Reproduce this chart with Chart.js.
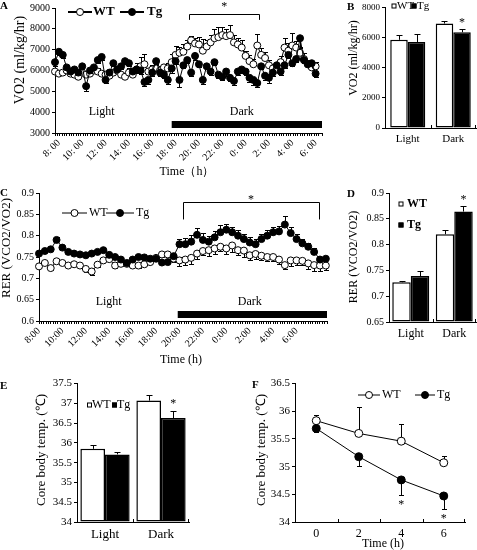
<!DOCTYPE html>
<html>
<head>
<meta charset="utf-8">
<script src="https://cdn.jsdelivr.net/npm/chart.js@4.4.0/dist/chart.umd.min.js"></script>
<style>
html, body { margin: 0; padding: 0; background: #fff; }
#fig { position: relative; width: 477px; height: 550px; overflow: hidden; }
canvas { position: absolute; }
</style>
</head>
<body>
<div id="fig">
  <canvas id="chartA" width="340" height="185" style="left:0;top:0"></canvas>
  <canvas id="chartB" width="137" height="185" style="left:340px;top:0"></canvas>
  <canvas id="chartC" width="340" height="195" style="left:0;top:185px"></canvas>
  <canvas id="chartD" width="137" height="165" style="left:340px;top:185px"></canvas>
  <canvas id="chartE" width="230" height="175" style="left:0;top:375px"></canvas>
  <canvas id="chartF" width="247" height="175" style="left:230px;top:375px"></canvas>
</div>
<script>
// A: VO2, one reading every 20 min from 8:00
const stepA = 1 / 3;
const vo2WT = [5950, 5850, 5900, 6000, 5850, 5800, 5700, 5900, 5800, 5850, 6000, 5950, 5850, 5800, 5750, 5900, 6000,
  5800, 5700, 5900, 5800, 6050, 6200, 6300, 5950, 6050, 6100, 6000, 6150, 6100, 6400, 6750, 6850, 6900, 7150,
  7450, 7300, 7250, 6950, 7150, 7350, 7550, 7600, 7700, 7650, 7700, 7350, 7250, 7100, 6700, 6450, 6300, 7200,
  6750, 6600, 6250, 6100, 6050, 6400, 7100, 6950, 7200, 7100, 6850, 6550, 6300, 6150, 6200];
const vo2WTErr = [250, 150, 150, 200, 150, 150, 150, 200, 150, 150, 200, 150, 150, 200, 150, 150, 200,
  150, 150, 200, 150, 300, 450, 500, 150, 200, 150, 200, 150, 250, 400, 450, 300, 350, 300,
  200, 250, 350, 550, 300, 350, 450, 500, 400, 350, 500, 350, 300, 350, 250, 300, 250, 550,
  350, 300, 250, 200, 300, 300, 450, 350, 600, 300, 250, 300, 200, 200, 200];
const vo2Tg = [6400, 6900, 6750, 6150, 5950, 6050, 5900, 6200, 5250, 6000, 6150, 6500, 6650, 5550, 5900, 6350, 6050,
  6200, 6450, 6350, 5950, 6050, 6000, 5450, 5550, 5900, 6450, 5900, 5800, 5550, 6100, 6450, 5550, 6250, 6500,
  5900, 6700, 6300, 5550, 6200, 5950, 6400, 5800, 5700, 5950, 5650, 5500, 5950, 6050, 5950, 5650, 5550, 5400,
  6200, 5750, 5650, 5900, 6250, 5950, 6250, 6750, 6350, 6550, 7550, 6500, 6300, 6350, 5850];
const vo2TgErr = [350, 150, 150, 150, 150, 150, 150, 150, 250, 150, 150, 150, 150, 150, 150, 150, 150,
  150, 150, 150, 150, 150, 150, 200, 200, 150, 150, 150, 150, 200, 200, 150, 350, 150, 150,
  150, 200, 150, 200, 150, 150, 150, 150, 150, 200, 150, 200, 150, 150, 150, 200, 250, 200,
  150, 200, 250, 150, 200, 150, 150, 150, 150, 150, 400, 150, 150, 150, 150];

// C: RER, one reading every 30 min from 8:00
const stepC = 0.5;
const rerWT = [0.728, 0.736, 0.724, 0.740, 0.736, 0.730, 0.733, 0.730, 0.722, 0.716, 0.732, 0.742, 0.745,
  0.730, 0.734, 0.734, 0.730, 0.730, 0.733, 0.738, 0.748, 0.756, 0.756, 0.746, 0.742, 0.744, 0.748, 0.758,
  0.764, 0.766, 0.770, 0.774, 0.770, 0.777, 0.766, 0.765, 0.754, 0.757, 0.753, 0.750, 0.750, 0.744, 0.731,
  0.742, 0.742, 0.741, 0.735, 0.731, 0.730, 0.730];
const rerWTErr = [0.004, 0.005, 0.004, 0.005, 0.004, 0.004, 0.004, 0.004, 0.006, 0.008, 0.005, 0.004, 0.004,
  0.006, 0.005, 0.004, 0.004, 0.005, 0.004, 0.004, 0.004, 0.005, 0.006, 0.008, 0.012, 0.012, 0.014, 0.012,
  0.010, 0.014, 0.012, 0.010, 0.012, 0.016, 0.012, 0.014, 0.010, 0.012, 0.010, 0.010, 0.010, 0.010, 0.010,
  0.012, 0.010, 0.010, 0.012, 0.014, 0.012, 0.010];
const rerTg = [0.758, 0.764, 0.768, 0.790, 0.772, 0.762, 0.758, 0.756, 0.754, 0.758, 0.762, 0.766, 0.755,
  0.750, 0.744, 0.736, 0.744, 0.750, 0.749, 0.746, 0.746, 0.737, 0.738, 0.752, 0.780, 0.780, 0.786, 0.802,
  0.790, 0.786, 0.796, 0.808, 0.814, 0.808, 0.800, 0.792, 0.784, 0.780, 0.792, 0.800, 0.808, 0.810, 0.826,
  0.806, 0.792, 0.782, 0.774, 0.762, 0.744, 0.746];
const rerTgErr = [0.004, 0.004, 0.005, 0.006, 0.005, 0.004, 0.004, 0.004, 0.004, 0.004, 0.005, 0.004, 0.004,
  0.004, 0.004, 0.004, 0.004, 0.004, 0.004, 0.004, 0.004, 0.004, 0.004, 0.006, 0.012, 0.014, 0.016, 0.015,
  0.016, 0.014, 0.015, 0.016, 0.014, 0.013, 0.014, 0.012, 0.014, 0.012, 0.013, 0.014, 0.012, 0.012, 0.020,
  0.014, 0.012, 0.010, 0.008, 0.008, 0.006, 0.005];

// B, D, E: Light / Dark means
const phases = ['Light', 'Dark'];
const vo2BarWT = [5850, 6930];
const vo2BarWTErr = [320, 170];
const vo2BarTg = [5700, 6350];
const vo2BarTgErr = [530, 190];
const rerBarWT = [0.727, 0.820];
const rerBarWTErr = [0.002, 0.009];
const rerBarTg = [0.739, 0.864];
const rerBarTgErr = [0.010, 0.010];
const tempBarWT = [35.85, 37.07];
const tempBarWTErr = [0.10, 0.14];
const tempBarTg = [35.71, 36.63];
const tempBarTgErr = [0.07, 0.17];

// F: cold exposure
const coldHours = [0, 2, 4, 6];
const coldWT = [35.83, 35.60, 35.46, 35.07];
const coldWTErr = [0.11, 0.48, 0.31, 0.12];
const coldTg = [35.69, 35.18, 34.76, 34.47];
const coldTgErr = [0.07, 0.17, 0.27, 0.24];

const SERIF = "'Liberation Serif', 'Times New Roman', serif";
Chart.defaults.font.family = SERIF;
Chart.defaults.color = '#000';

function series(values, step) {
  return values.map((v, i) => ({ x: i * step, y: v }));
}

function clock(value, sep) {
  const h = Math.round(value * 10) / 10;
  if (h < 0 || h > 22 || h % 2 !== 0) return '';
  return ((8 + h) % 24) + sep + '00';
}

function num(v) {
  return String(+v.toFixed(3));
}

function txt(ctx, s, x, y, size, opts = {}) {
  ctx.save();
  ctx.font = (opts.bold ? 'bold ' : '') + size + 'px ' + SERIF;
  ctx.fillStyle = '#000';
  ctx.textAlign = opts.align || 'center';
  ctx.textBaseline = 'middle';
  ctx.translate(x, y);
  if (opts.vertical) ctx.rotate(-Math.PI / 2);
  ctx.fillText(s, 0, 0);
  ctx.restore();
}

function lineKey(ctx, x1, x2, y, filled, r, lw) {
  ctx.save();
  ctx.strokeStyle = '#000';
  ctx.lineWidth = lw;
  ctx.beginPath();
  ctx.moveTo(x1, y);
  ctx.lineTo(x2, y);
  ctx.stroke();
  ctx.lineWidth = 1;
  ctx.beginPath();
  ctx.arc((x1 + x2) / 2, y, r, 0, Math.PI * 2);
  ctx.fillStyle = filled ? '#000' : '#fff';
  ctx.fill();
  ctx.stroke();
  ctx.restore();
}

function boxKey(ctx, x, y, size, filled) {
  ctx.save();
  ctx.fillStyle = filled ? '#000' : '#fff';
  ctx.strokeStyle = '#000';
  ctx.lineWidth = 1;
  ctx.fillRect(x - size / 2, y - size / 2, size, size);
  ctx.strokeRect(x - size / 2 + 0.5, y - size / 2 + 0.5, size - 1, size - 1);
  ctx.restore();
}

function bracket(ctx, x1, x2, yTop, yEnd) {
  ctx.save();
  ctx.strokeStyle = '#000';
  ctx.lineWidth = 1;
  ctx.beginPath();
  ctx.moveTo(Math.round(x1) + 0.5, yEnd);
  ctx.lineTo(Math.round(x1) + 0.5, Math.round(yTop) + 0.5);
  ctx.lineTo(Math.round(x2) + 0.5, Math.round(yTop) + 0.5);
  ctx.lineTo(Math.round(x2) + 0.5, yEnd);
  ctx.stroke();
  ctx.restore();
}

function upTick(ctx, x, bottom) {
  ctx.save();
  ctx.strokeStyle = '#000';
  ctx.beginPath();
  ctx.moveTo(Math.round(x) + 0.5, bottom);
  ctx.lineTo(Math.round(x) + 0.5, bottom - 3);
  ctx.stroke();
  ctx.restore();
}

// error bars: each dataset carries err values and a direction (+1 up, -1 down)
const errorBars = {
  id: 'errorBars',
  beforeDatasetsDraw(chart) {
    const ctx = chart.ctx;
    const yScale = chart.scales.y;
    chart.data.datasets.forEach((ds, di) => {
      if (!ds.err) return;
      const cap = ds.capWidth || 5;
      ctx.save();
      ctx.strokeStyle = '#000';
      ctx.lineWidth = 1;
      chart.getDatasetMeta(di).data.forEach((el, i) => {
        if (!ds.err[i]) return;
        const d = ds.data[i];
        const v = typeof d === 'object' ? d.y : d;
        const x = Math.round(el.x) + 0.5;
        const yEnd = Math.round(yScale.getPixelForValue(v + ds.errDir * ds.err[i])) + 0.5;
        ctx.beginPath();
        ctx.moveTo(x, el.y);
        ctx.lineTo(x, yEnd);
        ctx.moveTo(x - cap / 2, yEnd);
        ctx.lineTo(x + cap / 2, yEnd);
        ctx.stroke();
      });
      ctx.restore();
    });
  }
};

function notes(draw) {
  return { id: 'notes', afterDraw: chart => draw(chart, chart.ctx) };
}

function yAxis(min, max, step, width, size, fmt) {
  return {
    min, max,
    ticks: { stepSize: step, font: { size }, padding: 2, callback: fmt },
    grid: { drawOnChartArea: false, tickLength: 3, tickColor: '#000' },
    border: { color: '#000' },
    afterFit: s => { s.width = width; }
  };
}

function lineSet(label, data, filled, r, err, errDir, order) {
  return {
    label, data, order, err, errDir,
    borderColor: '#000', borderWidth: 1,
    pointRadius: r, pointHoverRadius: r, pointBorderWidth: 1,
    pointBorderColor: '#000', pointBackgroundColor: filled ? '#000' : '#fff',
    tension: 0, clip: false
  };
}

function barSet(label, data, filled, err, base) {
  return {
    label, data, base, err, errDir: 1, capWidth: 6,
    backgroundColor: filled ? '#000' : '#fff',
    borderColor: '#000', borderWidth: 1.5, borderSkipped: false
  };
}

const common = {
  responsive: false,
  animation: false,
  devicePixelRatio: 1,
  events: [],
  plugins: { legend: { display: false }, tooltip: { enabled: false } }
};

function timeAxis(max, height, sep, shift) {
  return {
    type: 'linear', min: 0, max,
    ticks: { stepSize: 0.2, autoSkip: false, minRotation: 45, maxRotation: 45, padding: 1,
      labelOffset: shift, font: { size: 10 }, callback: v => clock(v, sep) },
    grid: { drawOnChartArea: false, tickLength: 3, tickColor: '#000' },
    border: { color: '#000' },
    afterFit: s => { s.height = height; }
  };
}

function phaseAxis(height, size, pad) {
  return {
    ticks: { font: { size }, padding: pad },
    grid: { display: false, drawTicks: false },
    border: { color: '#000' },
    afterFit: s => { s.height = height; }
  };
}

// ---- A ----
new Chart(document.getElementById('chartA'), {
  type: 'line',
  data: { datasets: [
    lineSet('WT', series(vo2WT, stepA), false, 3.5, vo2WTErr, 1, 1),
    lineSet('Tg', series(vo2Tg, stepA), true, 3.5, vo2TgErr, -1, 0)
  ] },
  options: { ...common,
    layout: { padding: { top: 0, right: 18, left: 0, bottom: 0 } },
    scales: { x: timeAxis(22.88, 52, ': ', 4), y: yAxis(3000, 9000, 1000, 55, 10, v => v) } },
  plugins: [errorBars, notes((chart, ctx) => {
    const x = chart.scales.x, y = chart.scales.y, a = chart.chartArea;
    txt(ctx, 'A', 0, 6, 11, { bold: true, align: 'left' });
    txt(ctx, 'VO2 (ml/kg/hr)', 20, 60, 14, { vertical: true });
    txt(ctx, 'Time（h）', 187, 172, 12);
    const d0 = x.getPixelForValue(10);
    ctx.fillStyle = '#000';
    ctx.fillRect(d0, a.bottom - 12, a.right - d0, 7);
    txt(ctx, 'Light', x.getPixelForValue(4.0), y.getPixelForValue(4000), 12);
    txt(ctx, 'Dark', x.getPixelForValue(16.0), y.getPixelForValue(4000), 12);
    lineKey(ctx, 68, 92, 12, false, 3.5, 2);
    txt(ctx, 'WT', 93, 12, 13, { bold: true, align: 'left' });
    lineKey(ctx, 120, 144, 12, true, 3.5, 2);
    txt(ctx, 'Tg', 147, 12, 13, { bold: true, align: 'left' });
    const b1 = x.getPixelForValue(11.5), b2 = x.getPixelForValue(17.5);
    bracket(ctx, b1, b2, y.getPixelForValue(8720), y.getPixelForValue(8430));
    txt(ctx, '*', (b1 + b2) / 2, 7, 12);
  })]
});

// ---- B ----
new Chart(document.getElementById('chartB'), {
  type: 'bar',
  data: { labels: phases, datasets: [
    barSet('WT', vo2BarWT, false, vo2BarWTErr, 0),
    barSet('Tg', vo2BarTg, true, vo2BarTgErr, 0)
  ] },
  options: { ...common,
    datasets: { bar: { categoryPercentage: 0.77, barPercentage: 1 } },
    layout: { padding: { top: 0, right: 1, left: 0, bottom: 0 } },
    scales: { x: phaseAxis(57, 11, 5), y: yAxis(0, 8000, 2000, 45, 9, v => v) } },
  plugins: [errorBars, notes((chart, ctx) => {
    const x = chart.scales.x, y = chart.scales.y, a = chart.chartArea;
    txt(ctx, 'B', 7, 7, 11, { bold: true, align: 'left' });
    txt(ctx, 'VO2 (ml/kg/hr)', 14, 58, 12, { vertical: true });
    boxKey(ctx, 54, 6, 5, false);
    txt(ctx, 'WT', 57, 6, 11, { align: 'left' });
    boxKey(ctx, 74, 6, 5, true);
    txt(ctx, 'Tg', 77, 6, 11, { align: 'left' });
    upTick(ctx, x.getPixelForValue(0.5), a.bottom);
    upTick(ctx, a.right - 1, a.bottom);
    const el = chart.getDatasetMeta(1).data[1];
    txt(ctx, '*', el.x, y.getPixelForValue(vo2BarTg[1] + vo2BarTgErr[1]) - 7, 12);
  })]
});

// ---- C ----
new Chart(document.getElementById('chartC'), {
  type: 'line',
  data: { datasets: [
    lineSet('WT', series(rerWT, stepC), false, 3.5, rerWTErr, -1, 1),
    lineSet('Tg', series(rerTg, stepC), true, 3.5, rerTgErr, 1, 0)
  ] },
  options: { ...common,
    layout: { padding: { top: 5, right: 13, left: 0, bottom: 0 } },
    scales: { x: timeAxis(24.6, 59, ':', 0), y: yAxis(0.6, 0.9, 0.05, 39, 10, num) } },
  plugins: [errorBars, notes((chart, ctx) => {
    const x = chart.scales.x, y = chart.scales.y, a = chart.chartArea;
    txt(ctx, 'C', 0, 8, 11, { bold: true, align: 'left' });
    txt(ctx, 'RER (VCO2/VO2)', 7, 63, 13, { vertical: true });
    txt(ctx, 'Time (h)', 181, 175, 12);
    const d0 = x.getPixelForValue(11.85);
    ctx.fillStyle = '#000';
    ctx.fillRect(d0, a.bottom - 10, a.right - d0, 7);
    txt(ctx, 'Light', x.getPixelForValue(5.95), y.getPixelForValue(0.646), 12);
    txt(ctx, 'Dark', x.getPixelForValue(18.0), y.getPixelForValue(0.646), 12);
    lineKey(ctx, 62, 87, 28, false, 3.5, 1);
    txt(ctx, 'WT', 89, 28, 12, { align: 'left' });
    lineKey(ctx, 106, 134, 28, true, 3.5, 1);
    txt(ctx, 'Tg', 136, 28, 12, { align: 'left' });
    const b1 = x.getPixelForValue(12.3), b2 = x.getPixelForValue(23.9);
    bracket(ctx, b1, b2, y.getPixelForValue(0.878), y.getPixelForValue(0.838));
    txt(ctx, '*', (b1 + b2) / 2, 15, 12);
  })]
});

// ---- D ----
new Chart(document.getElementById('chartD'), {
  type: 'bar',
  data: { labels: phases, datasets: [
    barSet('WT', rerBarWT, false, rerBarWTErr, 0.65),
    barSet('Tg', rerBarTg, true, rerBarTgErr, 0.65)
  ] },
  options: { ...common,
    datasets: { bar: { categoryPercentage: 0.85, barPercentage: 1 } },
    layout: { padding: { top: 5, right: 1, left: 0, bottom: 0 } },
    scales: { x: phaseAxis(28, 12, 5), y: yAxis(0.65, 0.9, 0.05, 49, 10, num) } },
  plugins: [errorBars, notes((chart, ctx) => {
    const x = chart.scales.x, y = chart.scales.y, a = chart.chartArea;
    txt(ctx, 'D', 7, 9, 11, { bold: true, align: 'left' });
    txt(ctx, 'RER (VCO2/VO2)', 14, 72, 12, { vertical: true });
    boxKey(ctx, 61, 19, 5, false);
    txt(ctx, 'WT', 67, 19, 12, { bold: true, align: 'left' });
    boxKey(ctx, 61, 40, 5, true);
    txt(ctx, 'Tg', 67, 40, 12, { bold: true, align: 'left' });
    upTick(ctx, x.getPixelForValue(0.5), a.bottom);
    upTick(ctx, a.right - 1, a.bottom);
    const el = chart.getDatasetMeta(1).data[1];
    txt(ctx, '*', el.x, y.getPixelForValue(rerBarTg[1] + rerBarTgErr[1]) - 7, 12);
  })]
});

// ---- E ----
new Chart(document.getElementById('chartE'), {
  type: 'bar',
  data: { labels: phases, datasets: [
    barSet('WT', tempBarWT, false, tempBarWTErr, 34),
    barSet('Tg', tempBarTg, true, tempBarTgErr, 34)
  ] },
  options: { ...common,
    datasets: { bar: { categoryPercentage: 0.88, barPercentage: 1 } },
    layout: { padding: { top: 5.4, right: 41, left: 0, bottom: 0 } },
    scales: { x: phaseAxis(28, 13, 5), y: yAxis(34, 37.5, 0.5, 77, 11, num) } },
  plugins: [errorBars, notes((chart, ctx) => {
    const x = chart.scales.x, y = chart.scales.y, a = chart.chartArea;
    txt(ctx, 'E', 0, 11, 11, { bold: true, align: 'left' });
    txt(ctx, 'Core body temp. (℃)', 42, 75, 13, { vertical: true });
    boxKey(ctx, 89.5, 30, 5, false);
    txt(ctx, 'WT', 92, 30, 12, { align: 'left' });
    boxKey(ctx, 114.5, 30, 5, true);
    txt(ctx, 'Tg', 117, 30, 12, { align: 'left' });
    upTick(ctx, x.getPixelForValue(0.5), a.bottom);
    upTick(ctx, a.right - 1, a.bottom);
    const el = chart.getDatasetMeta(1).data[1];
    txt(ctx, '*', el.x, y.getPixelForValue(tempBarTg[1] + tempBarTgErr[1]) - 7, 12);
  })]
});

// ---- F ----
new Chart(document.getElementById('chartF'), {
  type: 'line',
  data: { datasets: [
    lineSet('WT', coldHours.map((h, i) => ({ x: h, y: coldWT[i] })), false, 4, coldWTErr, 1, 1),
    lineSet('Tg', coldHours.map((h, i) => ({ x: h, y: coldTg[i] })), true, 4, coldTgErr, -1, 0)
  ] },
  options: { ...common,
    layout: { padding: { top: 1.4, right: 12, left: 0, bottom: 0 } },
    scales: {
      x: { type: 'linear', min: -1, max: 7,
        ticks: { stepSize: 1, autoSkip: false, font: { size: 12 }, padding: 5,
          callback: v => (v >= 0 && v % 2 === 0 ? String(v) : '') },
        grid: { drawOnChartArea: false, drawTicks: false },
        border: { color: '#000' },
        afterFit: s => { s.height = 28; } },
      y: yAxis(34, 36.5, 0.5, 65, 11, num)
    } },
  plugins: [errorBars, notes((chart, ctx) => {
    const x = chart.scales.x, y = chart.scales.y, a = chart.chartArea;
    txt(ctx, 'F', 22, 10, 11, { bold: true, align: 'left' });
    txt(ctx, 'Core body temp. (℃)', 32, 75, 13, { vertical: true });
    txt(ctx, 'Time (h)', 153, 169, 12);
    [1, 3, 5, 7].forEach(h => upTick(ctx, Math.min(x.getPixelForValue(h), a.right - 1), a.bottom));
    lineKey(ctx, 128, 150, 20, false, 3.5, 1);
    txt(ctx, 'WT', 152, 20, 12, { align: 'left' });
    lineKey(ctx, 185, 205, 20, true, 3.5, 1);
    txt(ctx, 'Tg', 207, 20, 12, { align: 'left' });
    [2, 3].forEach(i => {
      txt(ctx, '*', x.getPixelForValue(coldHours[i]), y.getPixelForValue(coldTg[i] - coldTgErr[i]) + 10, 12);
    });
  })]
});
</script>
</body>
</html>
